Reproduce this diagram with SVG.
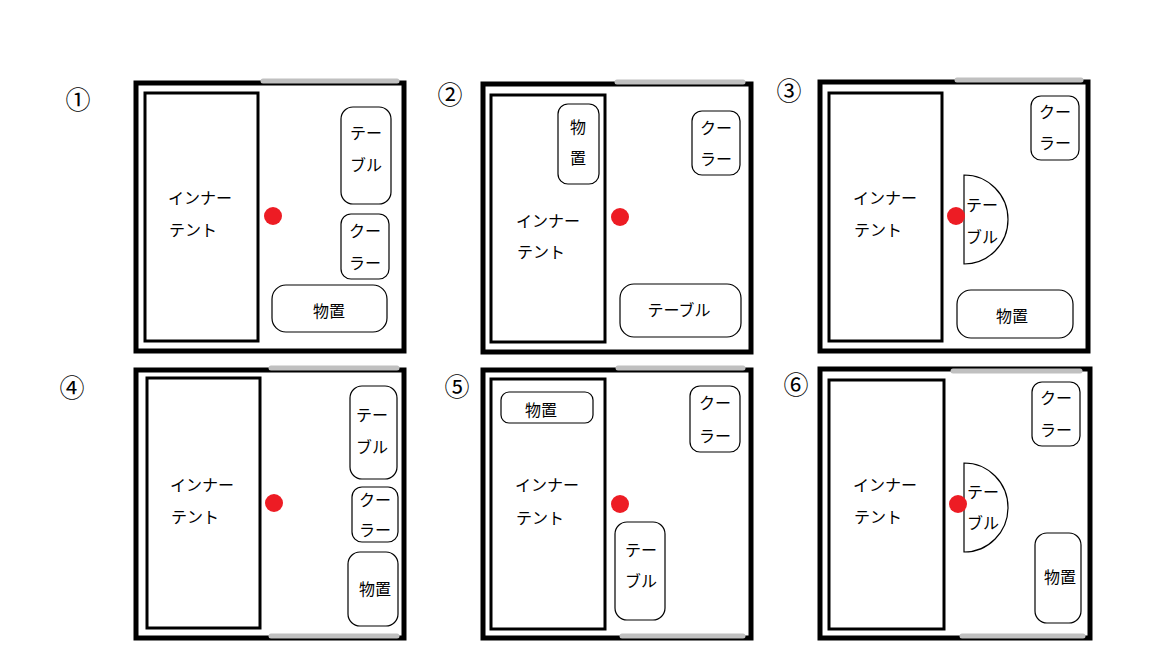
<svg xmlns="http://www.w3.org/2000/svg" width="1152" height="648" viewBox="0 0 1152 648">
<style>
.room{fill:#fff;stroke:#000;stroke-width:5}
.door{stroke:#c0c0c0;stroke-width:5;stroke-linecap:round}
.tent{fill:#fff;stroke:#000;stroke-width:3}
.item{fill:#fff;stroke:#000;stroke-width:1.2}
.dot{fill:#ed1c24}
text{font-family:"Noto Sans CJK JP","Noto Sans",sans-serif;font-size:16px;fill:#000;text-anchor:middle;dominant-baseline:central}
.num{font-size:25px}
</style>
<rect width="1152" height="648" fill="#fff"/>
<g id="p1">
<text class="num" x="78" y="98">①</text>
<rect class="room" x="136" y="83" width="268" height="268"/>
<line class="door" x1="263" y1="81" x2="397" y2="81"/>
<rect class="tent" x="145" y="93" width="113" height="248"/>
<text x="200" y="197">インナー</text><text x="193" y="229">テント</text>
<circle class="dot" cx="273" cy="216" r="9"/>
<rect class="item" x="341" y="107" width="50" height="97" rx="12"/>
<text x="366" y="132">テー</text><text x="366" y="164">ブル</text>
<rect class="item" x="341" y="214" width="48" height="65" rx="10"/>
<text x="365" y="230">クー</text><text x="365" y="262">ラー</text>
<rect class="item" x="272" y="285" width="115" height="47" rx="14"/>
<text x="329" y="310">物置</text>
</g>
<g id="p2">
<text class="num" x="450" y="93">②</text>
<rect class="room" x="483" y="84" width="268" height="268"/>
<line class="door" x1="617" y1="82" x2="743" y2="82"/>
<rect class="tent" x="491" y="95" width="114" height="247"/>
<text x="548" y="220">インナー</text><text x="541" y="251">テント</text>
<rect class="item" x="558" y="104" width="41" height="80" rx="10"/>
<text x="578" y="126">物</text><text x="578" y="157">置</text>
<circle class="dot" cx="620" cy="217" r="9"/>
<rect class="item" x="692" y="111" width="48" height="64" rx="10"/>
<text x="716" y="127">クー</text><text x="716" y="158">ラー</text>
<rect class="item" x="620" y="284" width="121" height="53" rx="14"/>
<text x="679" y="309">テーブル</text>
</g>
<g id="p3">
<text class="num" x="789" y="89">③</text>
<rect class="room" x="820" y="82" width="268" height="269"/>
<line class="door" x1="957" y1="80" x2="1081" y2="80"/>
<rect class="tent" x="829" y="93" width="113" height="248"/>
<text x="885" y="197">インナー</text><text x="878" y="229">テント</text>
<path class="item" d="M964 175 A44 44.5 0 0 1 964 264 Z"/>
<circle class="dot" cx="956" cy="216" r="9"/>
<text x="982" y="204">テー</text><text x="982" y="236">ブル</text>
<rect class="item" x="1031" y="96" width="48" height="64" rx="10"/>
<text x="1055" y="111">クー</text><text x="1055" y="142">ラー</text>
<rect class="item" x="957" y="290" width="116" height="48" rx="14"/>
<text x="1012" y="315">物置</text>
</g>
<g id="p4">
<text class="num" x="72" y="386">④</text>
<rect class="room" x="136" y="370" width="268" height="268"/>
<line class="door" x1="271" y1="368" x2="397" y2="368"/>
<line class="door" x1="271" y1="636" x2="397" y2="636"/>
<rect class="tent" x="147" y="378" width="113" height="250"/>
<text x="202" y="484">インナー</text><text x="195" y="516">テント</text>
<circle class="dot" cx="274" cy="503" r="9"/>
<rect class="item" x="350" y="386" width="47" height="93" rx="12"/>
<text x="372" y="414">テー</text><text x="372" y="446">ブル</text>
<rect class="item" x="352" y="487" width="46" height="55" rx="10"/>
<text x="375" y="499">クー</text><text x="375" y="529">ラー</text>
<rect class="item" x="348" y="552" width="50" height="74" rx="12"/>
<text x="375" y="588">物置</text>
</g>
<g id="p5">
<text class="num" x="457" y="385">⑤</text>
<rect class="room" x="483" y="370" width="268" height="268"/>
<line class="door" x1="618" y1="368" x2="743" y2="368"/>
<line class="door" x1="622" y1="636" x2="743" y2="636"/>
<rect class="tent" x="491" y="379" width="114" height="250"/>
<text x="547" y="484">インナー</text><text x="540" y="517">テント</text>
<rect class="item" x="501" y="392" width="92" height="31" rx="8"/>
<text x="541" y="409">物置</text>
<circle class="dot" cx="620" cy="504" r="9"/>
<rect class="item" x="690" y="386" width="50" height="66" rx="10"/>
<text x="715" y="402">クー</text><text x="715" y="435">ラー</text>
<rect class="item" x="615" y="522" width="50" height="98" rx="12"/>
<text x="641" y="549">テー</text><text x="641" y="580">ブル</text>
</g>
<g id="p6">
<text class="num" x="796" y="383">⑥</text>
<rect class="room" x="820" y="369" width="270" height="269"/>
<line class="door" x1="953" y1="371" x2="1080" y2="371"/>
<line class="door" x1="962" y1="636" x2="1083" y2="636"/>
<rect class="tent" x="829" y="380" width="115" height="249"/>
<text x="885" y="484">インナー</text><text x="878" y="516">テント</text>
<path class="item" d="M964 463 A44 44.5 0 0 1 964 552 Z"/>
<circle class="dot" cx="958" cy="504" r="9"/>
<text x="983" y="491">テー</text><text x="983" y="522">ブル</text>
<rect class="item" x="1032" y="382" width="48" height="64" rx="10"/>
<text x="1056" y="397">クー</text><text x="1056" y="429">ラー</text>
<rect class="item" x="1035" y="533" width="46" height="90" rx="12"/>
<text x="1060" y="576">物置</text>
</g>
</svg>
